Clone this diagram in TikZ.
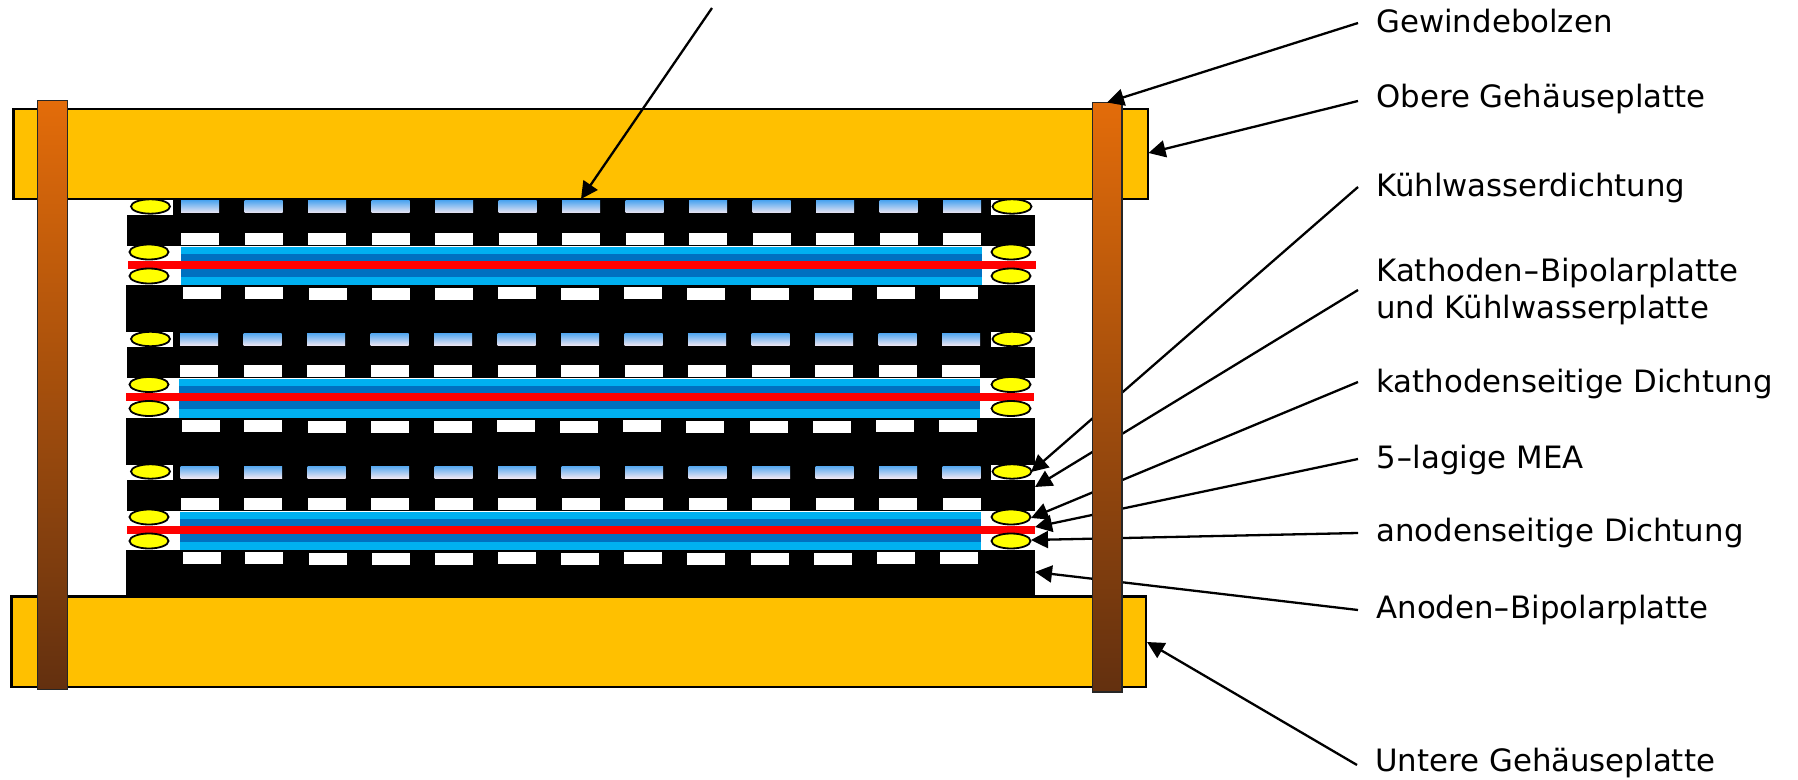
\documentclass[tikz,border=0pt]{standalone}
\usepackage{graphicx}
\usepackage{fontspec}
\setmainfont{DejaVu Sans}
\usetikzlibrary{arrows.meta}
\definecolor{plateC}{HTML}{FFC000}
\definecolor{boltTop}{HTML}{E36C0A}
\definecolor{boltMid}{HTML}{C25A0C}
\definecolor{boltBot}{HTML}{63300F}
\definecolor{lightB}{HTML}{00B0F0}
\definecolor{darkB}{HTML}{0070C0}
\definecolor{gradTop}{HTML}{55A8F0}
\definecolor{gradBot}{HTML}{EDE6F2}
\definecolor{sealC}{HTML}{FFFF00}
\definecolor{layerR}{HTML}{FF0000}
\newcommand{\widehyph}{\scalebox{1.5}[1]{-}}
\tikzset{
  plate/.style={draw=black,line width=1.1pt,fill=plateC},
  bolt/.style={draw=black!85,line width=0.9pt,top color=boltTop,middle color=boltMid,bottom color=boltBot},
  seal/.style={draw=black,line width=0.9pt,fill=sealC},
  label/.style={anchor=base west,inner sep=0pt,font=\fontsize{15.4}{18.5}\selectfont,align=left},
  leader/.style={draw=black,line width=1.15pt,-{Triangle[length=8.5pt,width=8.5pt]}},
}
\begin{document}
\begin{tikzpicture}[x=0.5pt,y=-0.5pt]
\useasboundingbox (0,0) rectangle (1798,780);
% stack of three cells
\foreach \dy/\dx in {0/0,132.5/-2,265/-1}{
  \fill[black] (173,199+\dy) rectangle (991,216+\dy);
  \fill[black] (127,215+\dy) rectangle (1035,246+\dy);
  \fill[black] (126,285+\dy) rectangle (1035,332+\dy);
  % cooling channels and cathode channels
  \foreach \i in {0,...,12}{
    \shade[top color=gradTop,bottom color=gradBot] (181+63.5*\i+\dx/2,201+\dy) rectangle +(38,12);
    \fill[white] (181+63.5*\i+\dx/2,233+\dy) rectangle +(38,12);
  }
  % anode channels
  \foreach \xx/\off in {183/0,245/0,309/1,372/1,435/1,498/0,561/1,624/0,687/1,751/1,814/1,877/0,940/0}{
    \fill[white] (\xx+\dx/2,287+\off+\dy) rectangle +(38,12);
  }
  % MEA layers
  \fill[lightB] (181+\dx,247+\dy) rectangle (982+\dx,254+\dy);
  \fill[darkB]  (181+\dx,254+\dy) rectangle (982+\dx,261+\dy);
  \fill[darkB]  (181+\dx,269+\dy) rectangle (982+\dx,277+\dy);
  \fill[lightB] (181+\dx,277+\dy) rectangle (982+\dx,285+\dy);
  \fill[layerR] (128+\dx,261+\dy) rectangle (1036+\dx,269+\dy);
  % gaskets
  \draw[seal] (150.5,206.5+\dy) ellipse (19.5 and 7.2);
  \draw[seal] (1012,206.5+\dy) ellipse (19.5 and 7.2);
  \draw[seal] (149,252+\dy) ellipse (19.5 and 7.5);
  \draw[seal] (149,276+\dy) ellipse (19.5 and 7.5);
  \draw[seal] (1011,252+\dy) ellipse (19.5 and 7.5);
  \draw[seal] (1011,276+\dy) ellipse (19.5 and 7.5);
}
% housing plates
\draw[plate] (13.5,109) rectangle (1148,199);
\draw[plate] (11.5,596.5) rectangle (1146,687);
% labels
\node[label] (lGew) at (1376,33) {Gewindebolzen};
\node[label] (lObe) at (1376,108) {Obere Gehäuseplatte};
\node[label] (lKue) at (1376,197) {Kühlwasserdichtung};
\node[label] (lKat) at (1376,282) {Kathoden\widehyph Bipolarplatte};
\node[label] (lKat2) at (1376,319) {und Kühlwasserplatte};
\node[label] (lKds) at (1376,393) {kathodenseitige Dichtung};
\node[label] (lMea) at (1376,468) {5\widehyph lagige MEA};
\node[label] (lAds) at (1376,541) {anodenseitige Dichtung};
\node[label] (lAbp) at (1376,618) {Anoden\widehyph Bipolarplatte};
\node[label] (lUnt) at (1375,771) {Untere Gehäuseplatte};
% connector ends
\coordinate (sTop) at (712,8);     \coordinate (tTop) at (581,199);
\coordinate (sGew) at (1358,23);   \coordinate (tGew) at (1107,102.5);
\coordinate (sObe) at (1358,101);  \coordinate (tObe) at (1148.5,153);
\coordinate (sKue) at (1358,187);  \coordinate (tKue) at (1031,472);
\coordinate (sKat) at (1358,290);  \coordinate (tKat) at (1035,487);
\coordinate (sKds) at (1358,382);  \coordinate (tKds) at (1031,518);
\coordinate (sMea) at (1358,459);  \coordinate (tMea) at (1035,527);
\coordinate (sAds) at (1358,533);  \coordinate (tAds) at (1031,540);
\coordinate (sAbp) at (1358,610);  \coordinate (tAbp) at (1035,572);
\coordinate (sUnt) at (1357,765);  \coordinate (tUnt) at (1147,642);
\draw[leader] (sTop) -- (tTop);
\draw[leader] (sObe) -- (tObe);
\draw[leader] (sKue) -- (tKue);
\draw[leader] (sKat) -- (tKat);
\draw[leader] (sKds) -- (tKds);
\draw[leader] (sMea) -- (tMea);
\draw[leader] (sAds) -- (tAds);
\draw[leader] (sAbp) -- (tAbp);
\draw[leader] (sUnt) -- (tUnt);
% threaded bolts
\path[bolt] (37.5,100.5) rectangle (67.5,689.5);
\path[bolt] (1092.5,102.5) rectangle (1122,692);
\draw[leader] (sGew) -- (tGew);
\end{tikzpicture}
\end{document}
